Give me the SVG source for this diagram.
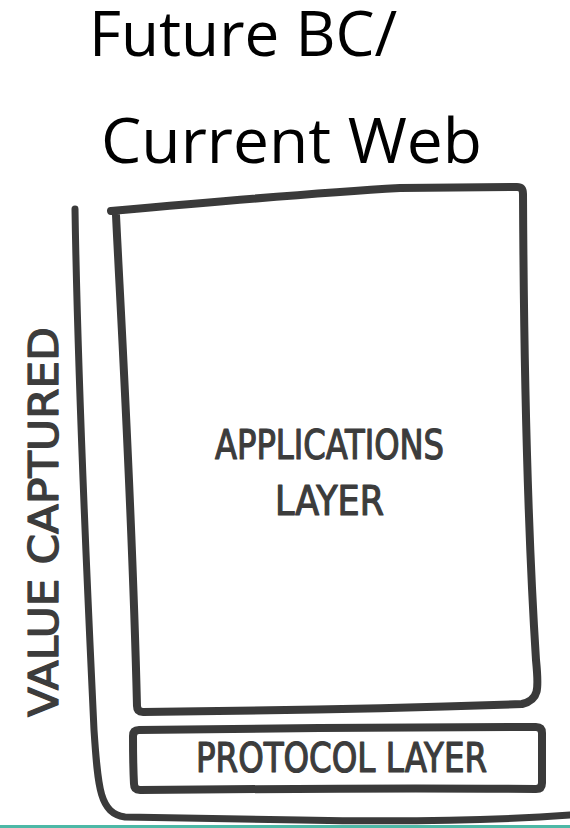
<svg xmlns="http://www.w3.org/2000/svg" width="570" height="828" viewBox="0 0 570 828">
  <style>
    .title { font-family: "Open Sans", "Noto Sans", sans-serif; font-size: 62px; fill: #000; }
    .hand { font-family: "DejaVu Sans Condensed", "Liberation Sans", sans-serif; font-size: 41px; fill: #3c3c3c; stroke: #3c3c3c; stroke-width: 1.2px; stroke-linejoin: round; }
    .sketch { fill: none; stroke: #3a3a3a; stroke-linecap: round; stroke-linejoin: round; }
  </style>
  <rect width="570" height="828" fill="#ffffff"/>
  <rect x="0" y="825" width="570" height="3" fill="#4db8a6"/>
  <g id="title">
    <text class="title" x="89" y="56">Future BC/</text>
    <text class="title" x="101" y="163" textLength="381" lengthAdjust="spacingAndGlyphs">Current Web</text>
  </g>
  <g id="connectors">
    <path id="axis" class="sketch" stroke-width="7" d="M75,209 C78,400 88,600 94,730 C98,790 100,813 125,817 L300,820 C400,822 500,820 570,815"/>
  </g>
  <g id="applications-layer">
    <path class="sketch" stroke-width="8" d="M111,211 C200,203 330,192 400,188 L517,187 Q523,187 523,194 C524,400 529,550 536,660 C539,690 539,700 522,704 C400,708 260,711 143,712 Q137,712 137,706 C132,500 120,300 116,215"/>
    <text class="hand" x="215" y="459" textLength="229" lengthAdjust="spacingAndGlyphs">APPLICATIONS</text>
    <text class="hand" x="275" y="515" textLength="109" lengthAdjust="spacingAndGlyphs">LAYER</text>
  </g>
  <g id="protocol-layer">
    <path class="sketch" stroke-width="8" d="M139,730 C250,728 450,727 536,727 Q542,727 542,733 L542,783 Q542,789 536,789 C400,788 250,789 140,790 Q134,790 134,784 C133,765 133,745 133,736 Q133,730 139,730 Z"/>
    <text class="hand" x="196" y="772" textLength="291" lengthAdjust="spacingAndGlyphs">PROTOCOL LAYER</text>
  </g>
  <g id="axis-label">
    <text class="hand" x="58" y="717" transform="rotate(-90 58 717)" textLength="390" lengthAdjust="spacingAndGlyphs">VALUE CAPTURED</text>
  </g>
</svg>
